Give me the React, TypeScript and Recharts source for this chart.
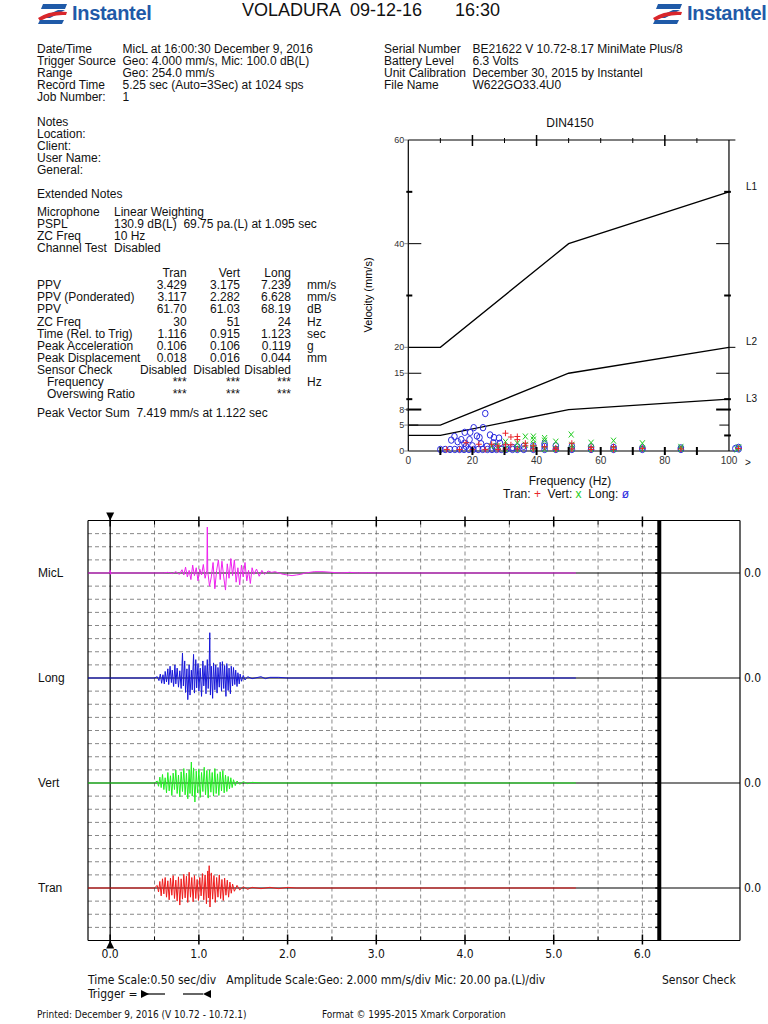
import React from 'react';
import { LineChart, ComposedChart, Line, Scatter, XAxis, YAxis, ReferenceLine } from 'recharts';

const FONT = '"Liberation Sans", Arial, Helvetica, sans-serif';
const NARROW = '"Liberation Sans Narrow", "DejaVu Sans Condensed", "Liberation Sans", sans-serif';

// ---- report text ----
const infoLeft: [string, string][] = [
    ['Date/Time', 'MicL at 16:00:30 December 9, 2016'],
    ['Trigger Source', 'Geo: 4.000 mm/s, Mic: 100.0 dB(L)'],
    ['Range', 'Geo: 254.0 mm/s'],
    ['Record Time', '5.25 sec (Auto=3Sec) at 1024 sps'],
    ['Job Number:', '1'],
];
const infoRight: [string, string][] = [
    ['Serial Number', 'BE21622 V 10.72-8.17 MiniMate Plus/8'],
    ['Battery Level', '6.3 Volts'],
    ['Unit Calibration', 'December 30, 2015 by Instantel'],
    ['File Name', 'W622GO33.4U0'],
];
const notes = ['Notes', 'Location:', 'Client:', 'User Name:', 'General:'];
const extNotes: [string, string][] = [
    ['Microphone', 'Linear Weighting'],
    ['PSPL', '130.9 dB(L)  69.75 pa.(L) at 1.095 sec'],
    ['ZC Freq', '10 Hz'],
    ['Channel Test', 'Disabled'],
];
const channels = ['Tran', 'Vert', 'Long'];
const tableRows: [string, string[], string][] = [
    ['PPV', ['3.429', '3.175', '7.239'], 'mm/s'],
    ['PPV (Ponderated)', ['3.117', '2.282', '6.628'], 'mm/s'],
    ['PPV', ['61.70', '61.03', '68.19'], 'dB'],
    ['ZC Freq', ['30', '51', '24'], 'Hz'],
    ['Time (Rel. to Trig)', ['1.116', '0.915', '1.123'], 'sec'],
    ['Peak Acceleration', ['0.106', '0.106', '0.119'], 'g'],
    ['Peak Displacement', ['0.018', '0.016', '0.044'], 'mm'],
    ['Sensor Check', ['Disabled', 'Disabled', 'Disabled'], ''],
    ['   Frequency', ['***', '***', '***'], 'Hz'],
    ['   Overswing Ratio', ['***', '***', '***'], ''],
];

// ---- DIN4150 chart ----
const dinL1: [number, number][] = [[0, 20], [10, 20], [50, 40], [100, 50]];
const dinL2: [number, number][] = [[0, 5], [10, 5], [50, 15], [100, 20]];
const dinL3: [number, number][] = [[0, 3], [10, 3], [50, 8], [100, 10]];
const dinYTicks = [0, 3, 5, 8, 10, 15, 20, 30, 40, 50, 60];
const dinYLabels = [0, 5, 8, 15, 20, 40, 60];
const dinXTicks = [0, 10, 20, 30, 40, 50, 60, 70, 80, 90, 100];

const tranPts: [number, number][] = [
    [30.3, 3.43], [32, 2.7], [34, 2.8], [34, 2.2], [36.5, 1.5], [22, 1.3], [18, 1.6], [26, 1.3], [28, 1.0],
    [30.3, 1.2], [32, 1.2], [36.5, 1.0], [39, 1.0], [42.5, 0.8], [46, 0.6], [51, 1.5], [57, 0.7], [64, 0.8],
    [73, 0.5], [85, 0.4], [103, 0.5], [12, 0.3], [16, 0.3], [20, 0.3], [24, 0.3], [28, 0.3], [30.3, 0.4],
    [34, 0.4], [39, 0.4], [46, 0.3], [51, 0.4], [57, 0.3], [64, 0.3],
];
const vertPts: [number, number][] = [
    [50.8, 3.18], [36.5, 2.8], [39, 2.8], [39, 2.2], [42.5, 2.5], [42.5, 2.0], [46, 1.8], [57, 1.6], [64, 2.0],
    [73, 1.5], [85, 0.8], [30.3, 1.8], [34, 1.5], [36.5, 1.2], [39, 1.4], [51, 1.2], [103, 0.7], [28, 1.0],
    [26, 0.9], [30.3, 0.4], [34, 0.4], [39, 0.5], [42.5, 0.4], [46, 0.4], [51, 0.5], [57, 0.4], [64, 0.4],
    [73, 0.4], [85, 0.4], [102.5, 0.3],
];
const longPts: [number, number][] = [
    [10, 0.3], [11.5, 0.3], [13, 0.3], [14.5, 0.3], [16, 0.3], [17.4, 0.3], [18.9, 0.3], [20.3, 0.3], [21.8, 0.3],
    [23.2, 0.3], [24.7, 0.3], [26.1, 0.3], [27.5, 0.3], [29, 0.3], [30.5, 0.3], [32.5, 0.3], [34, 0.3], [36, 0.3],
    [39, 0.3], [42.5, 0.3], [46, 0.3], [51, 0.3], [57, 0.3], [64, 0.3], [73, 0.3], [85, 0.3], [103, 0.4],
    [24, 7.24], [23.3, 4.5], [20.4, 4.5], [17.6, 3.6], [19.3, 3.6], [14.4, 2.8], [13.4, 2.1], [16.5, 2.2],
    [19.1, 2.2], [21.4, 2.9], [22.2, 2.6], [25.5, 3.1], [26.7, 2.6], [28.3, 2.5], [15.4, 1.8], [17.5, 1.5],
    [22.7, 1.4], [26.5, 1.6], [28.6, 1.5], [20, 1.0], [24.5, 0.9], [27, 0.8], [18, 0.9], [30.5, 0.8],
    [32.5, 0.7], [34, 0.8], [36, 0.9], [39, 1.0], [42.5, 1.4], [42.5, 0.9], [46, 1.0], [51, 0.9], [57, 0.8],
    [64, 0.7], [73, 0.6], [85, 0.6], [103, 0.7], [102, 0.5],
];

// ---- waveforms (time sec, value) ----
const micLWave: [number, number][] = [
    [-0.25, 0], [-0.005, 0], [0, 4], [0.005, -2], [0.01, 0], [0.6, 0], [0.65, 1], [0.7, -1], [0.74, 2], [0.78, -2],
    [0.81, 5], [0.83, -3], [0.85, 9], [0.87, -6], [0.89, 4], [0.91, -10], [0.93, 12], [0.95, -4], [0.97, 8],
    [0.99, -12], [1.01, 6], [1.03, -3], [1.05, 13], [1.07, -8], [1.09, 4], [1.095, 70], [1.1, 2], [1.12, -20],
    [1.14, -6], [1.16, 16], [1.18, -24], [1.2, 4], [1.22, 20], [1.24, -10], [1.26, 18], [1.28, -6], [1.3, -26],
    [1.32, 14], [1.34, -8], [1.36, 22], [1.38, -4], [1.4, 20], [1.42, -14], [1.44, 8], [1.46, -18], [1.48, 12],
    [1.5, -6], [1.52, 16], [1.54, -12], [1.56, 4], [1.58, -16], [1.6, 8], [1.62, -2], [1.65, 6], [1.68, -5],
    [1.71, 4], [1.74, -2], [1.78, 3], [1.82, 1], [1.86, 2], [1.9, 0], [1.95, -2], [2.0, -3], [2.05, -4],
    [2.1, -3], [2.15, -2], [2.2, 0], [2.25, 1], [2.3, 2], [2.4, 2], [2.5, 1], [2.6, 0], [2.7, 1], [2.8, 0],
    [2.9, 0.5], [3.0, 0], [5.25, 0],
];
const longWave: [number, number][] = [
    [-0.25, 0], [0.5, 0], [0.53, 0.2], [0.55, -0.4], [0.565, 0.6], [0.58, -0.8], [0.595, 0.5], [0.61, -0.9],
    [0.62, 1.0], [0.635, -0.6], [0.65, 1.4], [0.66, -1.0], [0.675, 1.8], [0.69, -0.7], [0.7, 1.2], [0.715, -1.3],
    [0.73, 2.0], [0.74, -0.9], [0.755, 1.5], [0.77, -1.4], [0.785, 1.1], [0.8, -1.6], [0.815, 3.8], [0.825, -1.2],
    [0.84, 2.6], [0.85, -2.2], [0.865, 1.4], [0.875, -3.3], [0.89, 2.0], [0.9, -2.6], [0.915, 1.2], [0.925, -1.8],
    [0.94, 3.6], [0.95, -2.3], [0.965, 2.8], [0.975, -1.5], [0.99, 2.2], [1.0, -2.0], [1.015, 1.5], [1.03, -2.8],
    [1.045, 2.6], [1.055, -1.2], [1.07, 1.9], [1.08, -2.4], [1.095, 2.8], [1.105, -1.6], [1.115, 1.2],
    [1.123, 6.9], [1.13, -2.6], [1.14, 1.8], [1.155, -3.1], [1.165, 2.3], [1.18, -1.8], [1.19, 2.0],
    [1.205, -2.3], [1.215, 1.6], [1.23, -1.4], [1.24, 2.4], [1.255, -2.0], [1.265, 2.5], [1.28, -1.6],
    [1.29, 1.9], [1.305, -2.8], [1.315, 2.2], [1.33, -1.9], [1.34, 1.5], [1.355, -2.4], [1.365, 1.8],
    [1.38, -1.2], [1.39, 1.6], [1.405, -1.0], [1.415, 1.2], [1.43, -1.3], [1.44, 0.8], [1.455, -0.9],
    [1.465, 0.6], [1.48, -0.5], [1.5, 0.4], [1.52, -0.3], [1.55, 0.2], [1.6, -0.1], [1.7, 0.2], [1.75, -0.1],
    [1.8, 0.1], [1.9, 0.1], [2.0, 0], [5.25, 0],
];
const vertWave: [number, number][] = [
    [-0.25, 0], [0.5, 0], [0.53, 0.3], [0.545, -0.5], [0.56, 0.9], [0.575, -0.7], [0.59, 1.3], [0.605, -1.0],
    [0.62, 0.8], [0.635, -1.5], [0.65, 1.6], [0.665, -1.2], [0.68, 1.1], [0.695, -1.9], [0.71, 1.5], [0.725, -1.0],
    [0.74, 2.0], [0.755, -1.6], [0.77, 1.2], [0.785, -2.1], [0.8, 1.7], [0.815, -1.3], [0.83, 2.2], [0.845, -1.8],
    [0.86, 1.5], [0.875, -2.4], [0.89, 2.0], [0.9, -1.6], [0.915, 3.2], [0.925, -2.0], [0.94, 2.3], [0.955, -2.9],
    [0.97, 1.8], [0.985, -1.5], [1.0, 2.1], [1.015, -2.2], [1.03, 1.6], [1.045, -1.3], [1.06, 2.4], [1.075, -1.8],
    [1.09, 1.9], [1.105, -2.3], [1.12, 2.0], [1.135, -1.4], [1.15, 1.6], [1.165, -2.0], [1.18, 2.2], [1.195, -1.6],
    [1.21, 1.4], [1.225, -1.9], [1.24, 1.7], [1.255, -1.2], [1.27, 1.9], [1.285, -1.5], [1.3, 1.2], [1.315, -1.3],
    [1.33, 1.0], [1.345, -0.9], [1.36, 0.8], [1.375, -0.7], [1.39, 0.5], [1.41, -0.4], [1.43, 0.3], [1.46, -0.2],
    [1.5, 0.2], [1.55, -0.1], [1.6, 0.1], [1.7, 0], [5.25, 0],
];
const tranWave: [number, number][] = [
    [-0.25, 0], [0.5, 0], [0.53, 0.4], [0.545, -0.6], [0.56, 1.0], [0.575, -1.2], [0.59, 1.4], [0.605, -0.9],
    [0.62, 1.6], [0.635, -1.4], [0.65, 1.1], [0.665, -1.8], [0.68, 1.5], [0.695, -1.1], [0.71, 1.9], [0.725, -1.6],
    [0.74, 1.2], [0.755, -2.0], [0.77, 1.7], [0.785, -2.6], [0.8, 1.4], [0.815, -1.7], [0.83, 2.1], [0.845, -1.5],
    [0.86, 1.8], [0.875, -2.2], [0.89, 2.4], [0.905, -1.4], [0.92, 1.6], [0.935, -2.1], [0.95, 1.9], [0.965, -1.6],
    [0.98, 1.3], [0.995, -1.9], [1.01, 1.6], [1.025, -1.2], [1.04, 2.2], [1.055, -1.8], [1.07, 2.0], [1.085, -2.4],
    [1.1, 2.6], [1.108, -1.5], [1.116, 3.4], [1.125, -2.9], [1.14, 2.3], [1.155, -1.7], [1.17, 1.9], [1.185, -2.2],
    [1.2, 1.6], [1.215, -1.4], [1.23, 2.0], [1.245, -1.6], [1.26, 1.3], [1.275, -1.9], [1.29, 1.5], [1.305, -1.1],
    [1.32, 1.2], [1.335, -1.4], [1.35, 0.9], [1.365, -0.8], [1.38, 0.6], [1.4, -0.5], [1.43, 0.4], [1.46, -0.3],
    [1.5, 0.2], [1.55, -0.2], [1.6, 0.1], [1.7, -0.1], [1.8, 0.1], [1.9, -0.1], [2.0, 0.1], [2.1, 0], [5.25, 0],
];
const baseline: [number, number][] = [[-0.25, 0], [7.1, 0]];
const halfSecs = [0, 0.5, 1, 1.5, 2, 2.5, 3, 3.5, 4, 4.5, 5, 5.5, 6];
const divs = [1, 2, 3, 4, 5, 6, 7, 8, 9, 10, 11, 12, 13, 14, 15, 16, 17, 18, 19, 20, 21, 22, 23, 24, 25, 26, 27, 28, 29, 30, 31];

// trace layout: level = division (from bottom) of the zero line, perDiv = units per division
const traces = [
    { name: 'MicL', data: micLWave, color: '#ee22ee', perDiv: 20, level: 28, width: 1 },
    { name: 'Long', data: longWave, color: '#1818d8', perDiv: 2, level: 20, width: 1 },
    { name: 'Vert', data: vertWave, color: '#22ee22', perDiv: 2, level: 12, width: 1 },
    { name: 'Tran', data: tranWave, color: '#ee1c1c', perDiv: 2, level: 4, width: 1 },
];

const WAVE_TOP = 520.5;
const DIV_PX = 13.125;
const T_END = 6.19;

const pts = (arr: [number, number][], kx: string, ky: string) => arr.map(([a, b]) => ({ [kx]: a, [ky]: b }));

const Txt = ({ x, y, children, style, right }: any) => (
    <div
        style={{
            position: 'absolute',
            left: right ? x - 200 : x,
            width: right ? 200 : undefined,
            textAlign: right ? 'right' : 'left',
            top: y - 6,
            lineHeight: '12px',
            fontSize: 12,
            whiteSpace: 'pre',
            color: '#111',
            ...style,
        }}
    >
        {children}
    </div>
);

const Logo = ({ x }: { x: number }) => (
    <div style={{ position: 'absolute', left: x, top: 2, display: 'flex', alignItems: 'center' }}>
        <svg width={32} height={22}>
            <polygon points="7,1 31,1 29,6 5,6" fill="#1f5aa8" />
            <polygon points="22,7 29,7 14,15 5,15" fill="#1f5aa8" />
            <path d="M2 15 Q15 7 31 9 L30 12 Q16 11 4 18 Z" fill="#d9262b" />
            <polygon points="4,17 28,17 26,21 2,21" fill="#1f5aa8" />
        </svg>
        <span style={{ marginLeft: 4, fontSize: 20, fontWeight: 'bold', color: '#1f5aa8', letterSpacing: -0.3 }}>
            Instantel
        </span>
    </div>
);

// ---- DIN ticks ----
const yTickLen: Record<number, number> = { 5: 10, 8: 13, 10: 4, 15: 13, 30: 4, 40: 13, 50: 4 };
const thickY = [8, 10, 30, 50];
const DinYTick = ({ x, y, payload }: any) => {
    const v = payload.value;
    const len = yTickLen[v] || 0;
    const thick = thickY.includes(v);
    return (
        <g>
            {len > 0 && (
                <line x1={thick ? x - 2 : x} x2={x + len} y1={y} y2={y} stroke="#000" strokeWidth={thick ? 2 : 1} />
            )}
            {dinYLabels.includes(v) && (
                <>
                    <line x1={x - 4} x2={x} y1={y} y2={y} stroke="#555" strokeWidth={0.7} />
                    <text x={x - 4} y={y} dy={3} textAnchor="end" fontSize={9} fill="#333" fontFamily={FONT}>
                        {v}
                    </text>
                </>
            )}
        </g>
    );
};
const DinXTick = ({ x, y, payload }: any) => {
    const v = payload.value;
    return (
        <g>
            {v > 0 && v < 100 && <line x1={x} x2={x} y1={y - 4} y2={y + 4} stroke="#000" strokeWidth={2} />}
            {v % 20 === 0 && (
                <text x={x} y={y + 13} textAnchor="middle" fontSize={10} fill="#333" fontFamily={FONT}>
                    {v}
                </text>
            )}
        </g>
    );
};
const DinTopTick = ({ x, y, payload }: any) => {
    const v = payload.value;
    if (v <= 0 || v >= 100) return <g />;
    const big = v === 20 || v === 40 || v === 80;
    return <line x1={x} x2={x} y1={y - (big ? 5 : 2)} y2={y + (big ? 6 : 3)} stroke="#000" strokeWidth={big ? 1.5 : 1} />;
};
// right side ticks: [value, length in Hz, stroke width]
const dinRightTicks: [number, number, number][] = [
    [3, 1.5, 2], [5, 3, 1], [8, 4, 2], [10, 1.5, 2], [15, 4, 1], [30, 1.5, 2], [40, 4, 1], [50, 1.5, 2],
];

const plus = (p: any) => (
    <path d={`M${p.cx - 3},${p.cy}h6M${p.cx},${p.cy - 3}v6`} stroke="#e8262b" strokeWidth={1} />
);
const cross = (p: any) => (
    <path d={`M${p.cx - 2.5},${p.cy - 3}L${p.cx + 2.5},${p.cy + 3}M${p.cx + 2.5},${p.cy - 3}L${p.cx - 2.5},${p.cy + 3}`} stroke="#22cc22" strokeWidth={1} />
);
const ring = (p: any) => <ellipse cx={p.cx} cy={p.cy} rx={2.8} ry={3.2} stroke="#2a2ae0" strokeWidth={1} fill="none" />;

// ---- waveform ticks ----
const WaveBottomTick = ({ x, y, payload }: any) => {
    const v = payload.value;
    const major = Number.isInteger(v);
    return (
        <g>
            <line x1={x} x2={x} y1={y - (major ? 6 : 4)} y2={y + (major ? 4 : 0)} stroke="#000" strokeWidth={major ? 1.5 : 1} />
            {v === 0 && <polygon points={`${x},${y} ${x - 4},${y + 8} ${x + 4},${y + 8}`} fill="#000" />}
            {major && (
                <text x={x} y={y + 17} textAnchor="middle" fontSize={12} fontFamily={NARROW} fill="#111">
                    {v.toFixed(1)}
                </text>
            )}
        </g>
    );
};
const WaveTopTick = ({ x, y, payload }: any) => {
    const v = payload.value;
    const major = Number.isInteger(v);
    return (
        <g>
            <line x1={x} x2={x} y1={y - (major ? 4 : 0)} y2={y + (major ? 6 : 4)} stroke="#000" strokeWidth={major ? 1.5 : 1} />
            {v === 0 && <polygon points={`${x},${y} ${x - 4},${y - 8} ${x + 4},${y - 8}`} fill="#000" />}
        </g>
    );
};
const DivTick = ({ x, y }: any) => <line x1={x} x2={x + 4} y1={y} y2={y} stroke="#000" strokeWidth={1.5} />;

export default function App() {
    const baseLevels = traces.map((t) => t.level);
    return (
        <div style={{ position: 'absolute', left: 0, top: 0, width: 768, height: 1024, background: '#fff', fontFamily: FONT, overflow: 'hidden' }}>
            {/* header */}
            <Logo x={36} />
            <Logo x={651} />
            <Txt x={242} y={10} style={{ fontSize: 18, lineHeight: '18px', top: 1 }}>VOLADURA  09-12-16</Txt>
            <Txt x={455} y={10} style={{ fontSize: 18, lineHeight: '18px', top: 1 }}>16:30</Txt>

            {infoLeft.map(([k, v], i) => (
                <React.Fragment key={'l' + i}>
                    <Txt x={37} y={49 + i * 12}>{k}</Txt>
                    <Txt x={122.5} y={49 + i * 12}>{v}</Txt>
                </React.Fragment>
            ))}
            {infoRight.map(([k, v], i) => (
                <React.Fragment key={'r' + i}>
                    <Txt x={384} y={49 + i * 12}>{k}</Txt>
                    <Txt x={472.5} y={49 + i * 12}>{v}</Txt>
                </React.Fragment>
            ))}
            {notes.map((n, i) => (
                <Txt key={'n' + i} x={37} y={121.7 + i * 12.1}>{n}</Txt>
            ))}
            <Txt x={37} y={194.3}>Extended Notes</Txt>
            {extNotes.map(([k, v], i) => (
                <React.Fragment key={'e' + i}>
                    <Txt x={37} y={211.7 + i * 12.1}>{k}</Txt>
                    <Txt x={114} y={211.7 + i * 12.1}>{v}</Txt>
                </React.Fragment>
            ))}
            {channels.map((c, j) => (
                <Txt key={'c' + j} right x={[186.7, 240, 291][j]} y={273}>{c}</Txt>
            ))}
            {tableRows.map(([k, vals, unit], i) => (
                <React.Fragment key={'t' + i}>
                    <Txt x={37} y={285.2 + i * 12.1}>{k}</Txt>
                    {vals.map((v, j) => (
                        <Txt key={j} right x={[186.7, 240, 291][j]} y={285.2 + i * 12.1}>{v}</Txt>
                    ))}
                    <Txt x={307} y={285.2 + i * 12.1}>{unit}</Txt>
                </React.Fragment>
            ))}
            <Txt x={37} y={412.7}>Peak Vector Sum  7.419 mm/s at 1.122 sec</Txt>

            {/* DIN4150 chart */}
            <Txt x={570} y={122.5} style={{ transform: 'translateX(-50%)' }}>DIN4150</Txt>
            <div style={{ position: 'absolute', left: 368, top: 295, transform: 'translate(-50%, -50%) rotate(-90deg)', fontSize: 11, whiteSpace: 'nowrap' }}>
                Velocity (mm/s)
            </div>
            <div style={{ position: 'absolute', left: 360, top: 110 }}>
                <ComposedChart width={408} height={400} margin={{ top: 29, right: 26.2, left: 47.3, bottom: 39 }}>
                    <XAxis dataKey="f" type="number" domain={[0, 104]} ticks={dinXTicks} interval={0} axisLine={false}
                        tickLine={false} tickSize={0} tickMargin={0} height={20} tick={<DinXTick />} />
                    <XAxis xAxisId="top" orientation="top" dataKey="f" type="number" domain={[0, 104]} allowDataOverflow
                        ticks={dinXTicks} interval={0} axisLine={false} tickLine={false} tickSize={0} tickMargin={0}
                        height={1} tick={<DinTopTick />} />
                    <YAxis dataKey="v" type="number" domain={[0, 60]} ticks={dinYTicks} interval={0} axisLine={false}
                        tickLine={false} tickSize={0} tickMargin={0} width={1} tick={<DinYTick />} />
                    <ReferenceLine x={0} stroke="#000" strokeWidth={1.2} ifOverflow="visible" />
                    <ReferenceLine x={100} stroke="#000" strokeWidth={1.2} ifOverflow="visible" />
                    <ReferenceLine segment={[{ x: 0, y: 60 }, { x: 102, y: 60 }]} stroke="#000" strokeWidth={1.2} ifOverflow="visible" />
                    <ReferenceLine segment={[{ x: 0, y: 0 }, { x: 102, y: 0 }]} stroke="#000" strokeWidth={1.2} ifOverflow="visible" />
                    {dinRightTicks.map(([v, len, w]) => (
                        <ReferenceLine key={'rt' + v} segment={[{ x: 100 - len, y: v }, { x: 100 + (w > 1 ? 0.6 : 0), y: v }]}
                            stroke="#000" strokeWidth={w} ifOverflow="visible" />
                    ))}
                    <ReferenceLine segment={[{ x: 100, y: 20 }, { x: 102, y: 20 }]} stroke="#000" strokeWidth={1} ifOverflow="visible" />
                    {[dinL1, dinL2, dinL3].map((l, i) => (
                        <Line key={'L' + i} data={pts(l, 'f', 'v')} dataKey="v" type="linear" stroke="#000" strokeWidth={1.3}
                            dot={false} isAnimationActive={false} />
                    ))}
                    <Scatter data={pts(longPts, 'f', 'v')} shape={ring} isAnimationActive={false} />
                    <Scatter data={pts(vertPts, 'f', 'v')} shape={cross} isAnimationActive={false} />
                    <Scatter data={pts(tranPts, 'f', 'v')} shape={plus} isAnimationActive={false} />
                </ComposedChart>
            </div>
            <Txt x={746} y={187} style={{ fontSize: 10 }}>L1</Txt>
            <Txt x={746} y={342} style={{ fontSize: 10 }}>L2</Txt>
            <Txt x={746} y={399} style={{ fontSize: 10 }}>L3</Txt>
            <Txt x={745} y={463} style={{ fontSize: 10 }}>&gt;</Txt>
            <Txt x={570} y={480.5} style={{ transform: 'translateX(-50%)' }}>Frequency (Hz)</Txt>
            <Txt x={566} y={494} style={{ transform: 'translateX(-50%)' }}>
                Tran: <span style={{ color: '#e8262b' }}>+</span>  Vert: <span style={{ color: '#22cc22' }}>x</span>  Long:{' '}
                <span style={{ color: '#2a2ae0' }}>ø</span>
            </Txt>

            {/* waveform chart */}
            {traces.map((t) => (
                <React.Fragment key={'lab' + t.name}>
                    <Txt x={38} y={WAVE_TOP + (32 - t.level) * DIV_PX}>{t.name}</Txt>
                    <Txt x={744} y={WAVE_TOP + (32 - t.level) * DIV_PX} style={{ fontFamily: NARROW }}>0.0</Txt>
                </React.Fragment>
            ))}
            <div style={{ position: 'absolute', left: 0, top: 500 }}>
                <LineChart width={768} height={470} margin={{ top: 19.5, right: 28, left: 87, bottom: 5.5 }}>
                    <XAxis dataKey="t" type="number" domain={[-0.25, 7.1]} allowDataOverflow ticks={halfSecs} interval={0}
                        axisLine={false} tickLine={false} tickSize={0} tickMargin={0} height={24} tick={<WaveBottomTick />} />
                    <XAxis xAxisId="top" orientation="top" dataKey="t" type="number" domain={[-0.25, 7.1]} allowDataOverflow
                        ticks={halfSecs} interval={0} axisLine={false} tickLine={false} tickSize={0} tickMargin={0}
                        height={1} tick={<WaveTopTick />} />
                    <YAxis yAxisId="div" type="number" domain={[0, 32]} allowDataOverflow ticks={divs} interval={0}
                        axisLine={false} tickLine={false} tickSize={0} tickMargin={0} width={1} tick={<DivTick />} />
                    {traces.map((t) => (
                        <YAxis key={'ax' + t.name} yAxisId={t.name} type="number" hide allowDataOverflow
                            domain={[-t.level * t.perDiv, (32 - t.level) * t.perDiv]} />
                    ))}
                    {divs.filter((k) => !baseLevels.includes(k)).map((k) => (
                        <ReferenceLine key={'h' + k} yAxisId="div" segment={[{ x: -0.25, y: k }, { x: T_END, y: k }]}
                            stroke="#6a6a6a" strokeWidth={0.8} strokeDasharray="4 3" ifOverflow="visible" />
                    ))}
                    {halfSecs.filter((s) => s > 0).map((s) => (
                        <ReferenceLine key={'v' + s} yAxisId="div" x={s} stroke="#6a6a6a" strokeWidth={0.8}
                            strokeDasharray="4 3" ifOverflow="visible" />
                    ))}
                    {divs.map((k) => (
                        <ReferenceLine key={'rt' + k} yAxisId="div" segment={[{ x: T_END - 0.045, y: k }, { x: T_END, y: k }]}
                            stroke="#000" strokeWidth={1.5} ifOverflow="visible" />
                    ))}
                    <ReferenceLine yAxisId="div" x={0} stroke="#000" strokeWidth={1.2} ifOverflow="visible" />
                    <ReferenceLine yAxisId="div" x={-0.25} stroke="#000" strokeWidth={1.2} ifOverflow="visible" />
                    <ReferenceLine yAxisId="div" x={7.1} stroke="#000" strokeWidth={1.2} ifOverflow="visible" />
                    <ReferenceLine yAxisId="div" x={T_END} stroke="#000" strokeWidth={4} ifOverflow="visible" />
                    <ReferenceLine yAxisId="div" y={32} stroke="#000" strokeWidth={1.2} ifOverflow="visible" />
                    <ReferenceLine yAxisId="div" y={0} stroke="#000" strokeWidth={1.2} ifOverflow="visible" />
                    {traces.map((t) => (
                        <Line key={'b' + t.name} yAxisId={t.name} data={pts(baseline, 't', 'v')} dataKey="v" type="linear"
                            stroke="#000" strokeWidth={1.2} dot={false} isAnimationActive={false} />
                    ))}
                    {traces.map((t) => (
                        <Line key={'w' + t.name} yAxisId={t.name} data={pts(t.data, 't', 'v')} dataKey="v" type="linear"
                            stroke={t.color} strokeWidth={t.width} dot={false} isAnimationActive={false} />
                    ))}
                </LineChart>
            </div>

            {/* footer */}
            <Txt x={88} y={980} style={{ fontFamily: NARROW }}>
                Time Scale:0.50 sec/div   Amplitude Scale:Geo: 2.000 mm/s/div Mic: 20.00 pa.(L)/div
            </Txt>
            <Txt x={662} y={980} style={{ fontFamily: NARROW }}>Sensor Check</Txt>
            <Txt x={88} y={994} style={{ fontFamily: NARROW, display: 'flex', alignItems: 'center' }}>
                Trigger = 
                <svg width={72} height={10} style={{ marginLeft: 3 }}>
                    <polygon points="0,1 8,5 0,9" fill="#000" />
                    <line x1={6} x2={24} y1={5} y2={5} stroke="#000" strokeWidth={1.2} />
                    <line x1={42} x2={62} y1={5} y2={5} stroke="#000" strokeWidth={1.2} />
                    <polygon points="70,1 62,5 70,9" fill="#000" />
                </svg>
            </Txt>
            <Txt x={37} y={1015} style={{ fontFamily: NARROW, fontSize: 10 }}>Printed: December 9, 2016 (V 10.72 - 10.72.1)</Txt>
            <Txt x={322} y={1015} style={{ fontFamily: NARROW, fontSize: 10 }}>Format © 1995-2015 Xmark Corporation</Txt>
        </div>
    );
}
